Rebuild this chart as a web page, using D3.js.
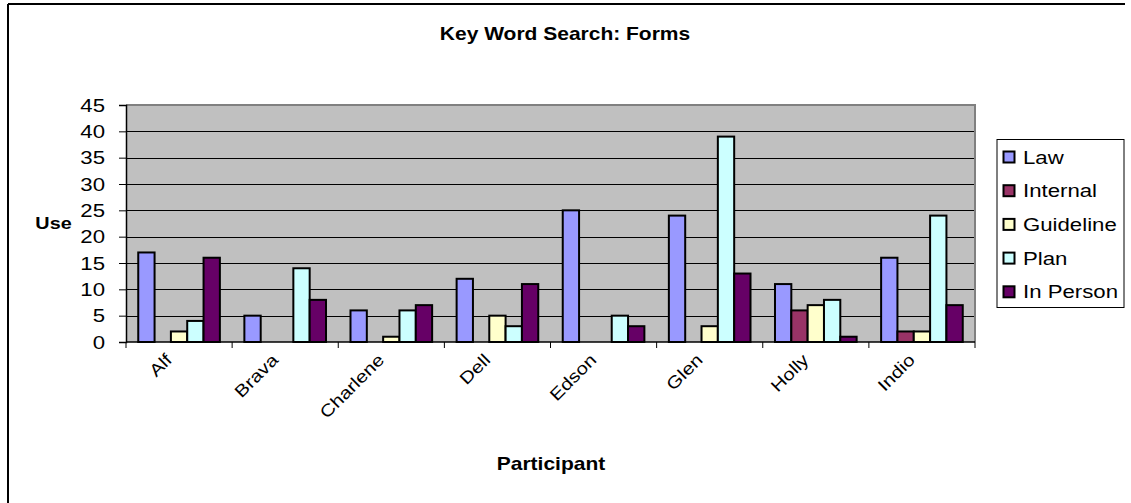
<!DOCTYPE html>
<html>
<head>
<meta charset="utf-8">
<script src="https://cdn.jsdelivr.net/npm/d3@7"></script>
<style>
  html, body { margin: 0; padding: 0; background: #fff; }
  svg { display: block; font-family: "Liberation Sans", Arial, sans-serif; }
</style>
</head>
<body>
<svg id="chart" width="1131" height="503"></svg>
<script>
// Participants along the x axis
const participants = ["Alf", "Brava", "Charlene", "Dell", "Edson", "Glen", "Holly", "Indio"];
// Source types (one bar each per participant)
const seriesNames = ["Law", "Internal", "Guideline", "Plan", "In Person"];
// Counts per source type, in participant order
const law       = [17, 5, 6, 12, 25, 24, 11, 16];
const internal  = [0, 0, 0, 0, 0, 0, 6, 2];
const guideline = [2, 0, 1, 5, 0, 3, 7, 2];
const plan      = [4, 14, 6, 3, 5, 39, 8, 24];
const inPerson  = [16, 8, 7, 11, 3, 13, 1, 7];
const yTicks = [0, 5, 10, 15, 20, 25, 30, 35, 40, 45];
const seriesColors = ["#9999FF", "#993366", "#FFFFCC", "#CCFFFF", "#660066"];

const seriesValues = [law, internal, guideline, plan, inPerson];

// Glyphs in this chart are drawn slightly widened along the baseline
const STRETCH = 1.2;

const svg = d3.select("#chart");

// Places a text element at (x, y), optionally rotated, widened along its baseline
function label(parent, x, y, str, opts = {}) {
  const rot = opts.rotate ? ` rotate(${opts.rotate})` : "";
  return parent.append("text")
    .attr("transform", `translate(${x},${y})${rot} scale(${STRETCH},1)`)
    .attr("text-anchor", opts.anchor || "start")
    .attr("font-size", opts.size || 18)
    .attr("font-weight", opts.weight || "normal")
    .attr("fill", "#000")
    .text(str);
}

// Frame around the chart
svg.append("line").attr("x1", 8).attr("y1", 4).attr("x2", 1125).attr("y2", 4)
  .attr("stroke", "#000").attr("stroke-width", 2);
svg.append("line").attr("x1", 8).attr("y1", 4).attr("x2", 8).attr("y2", 503)
  .attr("stroke", "#000").attr("stroke-width", 2);

const plot = { left: 126, right: 975, top: 105, bottom: 342 };

const x0 = d3.scaleBand().domain(participants).range([plot.left, plot.right]).padding(0);
const x1 = d3.scaleBand().domain(seriesNames).range([0, x0.bandwidth()])
  .paddingInner(0).paddingOuter(0.75);
const y = d3.scaleLinear().domain([0, 45]).range([plot.bottom, plot.top]);
const color = d3.scaleOrdinal().domain(seriesNames).range(seriesColors);

// Plot background
svg.append("rect")
  .attr("x", plot.left).attr("y", plot.top)
  .attr("width", plot.right - plot.left).attr("height", plot.bottom - plot.top)
  .attr("fill", "#C0C0C0");

// Horizontal gridlines
svg.append("g").selectAll("line").data(yTicks.filter(t => t > 0 && t < 45)).join("line")
  .attr("x1", plot.left).attr("x2", plot.right)
  .attr("y1", d => Math.round(y(d)) + 0.5).attr("y2", d => Math.round(y(d)) + 0.5)
  .attr("stroke", "#000").attr("stroke-width", 1);

// Plot border (top and right)
svg.append("path")
  .attr("d", `M${plot.left},${plot.top} H${plot.right} V${plot.bottom}`)
  .attr("fill", "none").attr("stroke", "#808080").attr("stroke-width", 2);

// Bars
const rows = participants.map((p, i) => ({
  participant: p,
  values: seriesNames.map((s, j) => ({ series: s, value: seriesValues[j][i] }))
}));

svg.append("g").selectAll("g").data(rows).join("g")
  .attr("transform", d => `translate(${x0(d.participant)},0)`)
  .selectAll("rect").data(d => d.values.filter(v => v.value > 0)).join("rect")
  .attr("x", d => x1(d.series))
  .attr("y", d => y(d.value))
  .attr("width", x1.bandwidth())
  .attr("height", d => y(0) - y(d.value))
  .attr("fill", d => color(d.series))
  .attr("stroke", "#000").attr("stroke-width", 2);

// Y axis: line and tick marks from the axis generator, labels drawn widened
const yAxis = svg.append("g")
  .attr("transform", `translate(${plot.left},0)`)
  .call(d3.axisLeft(y).tickValues(yTicks).tickSize(7).tickFormat(""));
yAxis.select(".domain").attr("stroke", "#000").attr("stroke-width", 1.5);
yAxis.selectAll(".tick line").attr("stroke", "#000");

const yLabels = svg.append("g");
yTicks.forEach(t => label(yLabels, 105, y(t) + 6.5, String(t), { anchor: "end", size: 18.5 }));

// X axis line with ticks at category boundaries
svg.append("line").attr("x1", plot.left).attr("x2", plot.right)
  .attr("y1", plot.bottom).attr("y2", plot.bottom)
  .attr("stroke", "#000").attr("stroke-width", 1.5);
const boundaries = participants.map(p => x0(p)).concat([plot.right]);
svg.append("g").selectAll("line").data(boundaries).join("line")
  .attr("x1", d => d).attr("x2", d => d)
  .attr("y1", plot.bottom).attr("y2", plot.bottom + 6)
  .attr("stroke", "#000").attr("stroke-width", 1);

// Category labels, rotated 45 degrees
const xLabels = svg.append("g");
participants.forEach(p =>
  label(xLabels, x0(p) + x0.bandwidth() / 2 - 6, plot.bottom + 19, p,
    { anchor: "end", size: 17, rotate: -45 }));

// Title
label(svg, 565, 40, "Key Word Search: Forms", { anchor: "middle", size: 17.5, weight: "bold" });

// Axis titles
label(svg, 53.5, 229, "Use", { anchor: "middle", size: 16.5, weight: "bold" });
label(svg, 551, 470, "Participant", { anchor: "middle", size: 17.5, weight: "bold" });

// Legend
const legend = svg.append("g");
legend.append("rect").attr("x", 997).attr("y", 139.5).attr("width", 127).attr("height", 168)
  .attr("fill", "#fff").attr("stroke", "#000").attr("stroke-width", 1);
seriesNames.forEach((s, i) => {
  const cy = 157 + i * 33.7;
  legend.append("rect").attr("x", 1003.5).attr("y", cy - 5.5).attr("width", 11).attr("height", 11)
    .attr("fill", color(s)).attr("stroke", "#000").attr("stroke-width", 2);
  label(legend, 1023, cy + 6.5, s, { size: 18.5 });
});
</script>
</body>
</html>
